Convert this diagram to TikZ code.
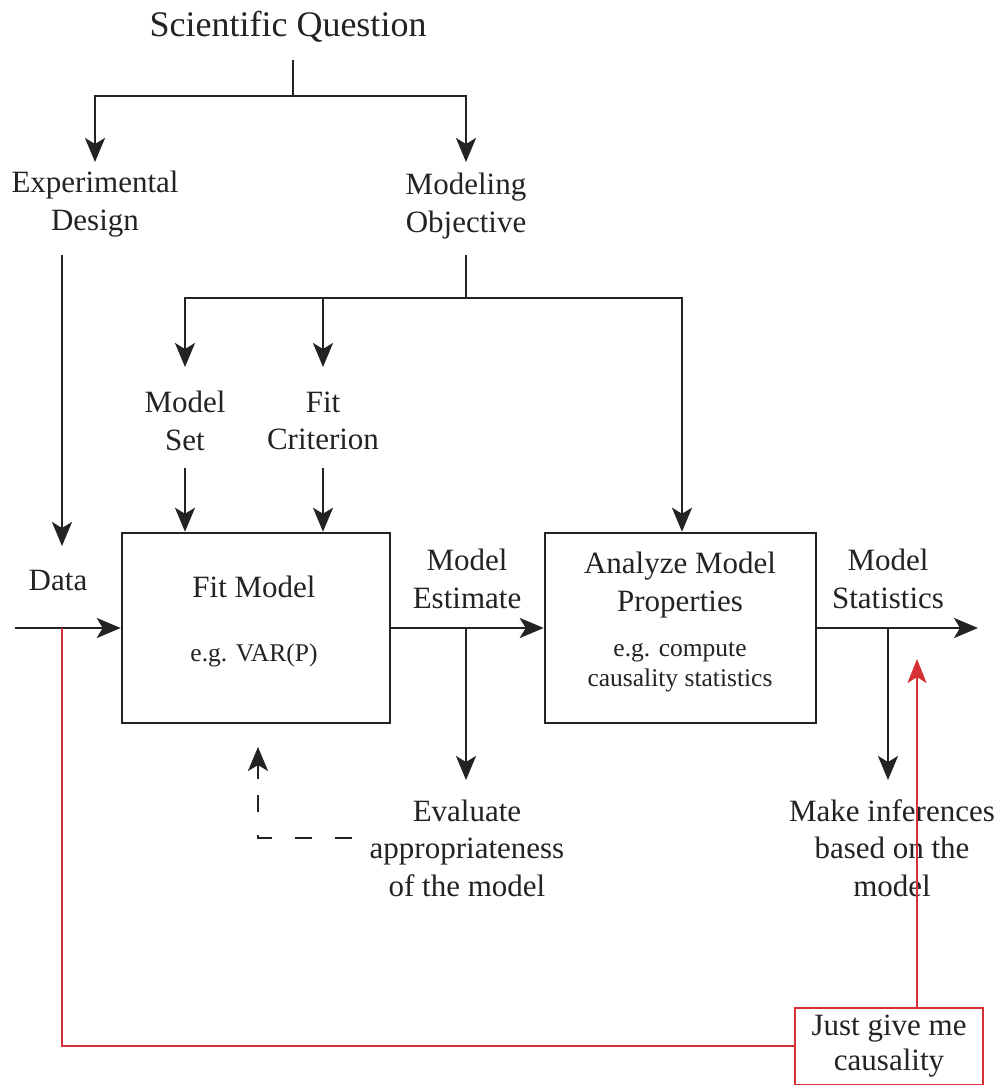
\documentclass[tikz,border=0pt]{standalone}
\usepackage{fontspec}
\setmainfont{Liberation Serif}
\usetikzlibrary{arrows.meta}
\definecolor{ink}{RGB}{35,35,38}
\definecolor{redline}{RGB}{214,48,52}
\begin{document}
\begin{tikzpicture}[x=1pt,y=-1pt,
  lbl/.style={align=center,text=ink,font=\fontsize{31}{37.5}\selectfont,inner sep=0pt},
  sub/.style={align=center,text=ink,font=\fontsize{25.5}{30}\selectfont,inner sep=0pt},
  boxnode/.style={draw=ink,line width=2.5pt,minimum height=190pt,inner sep=0pt},
  wire/.style={draw=ink,line width=2.5pt},
  arr/.style={wire,-{Stealth[length=24pt,width=20pt,inset=6pt]}},
  redwire/.style={draw=redline,line width=2pt},
  redarr/.style={redwire,-{Stealth[length=24pt,width=19pt,inset=6pt]}},
  fbdash/.style={wire,dash pattern=on 17pt off 23pt}]
  \fill[white] (0,0) rectangle (999,1085);
  \useasboundingbox (0,0) rectangle (999,1085);
  \clip (0,0) rectangle (999,1085);

  % text labels
  \node[lbl,font=\fontsize{36}{42}\selectfont] (sq) at (288,27) {Scientific Question};
  \node[lbl] (exp) at (95,204) {Experimental\\Design};
  \node[lbl] (mo) at (466,206) {Modeling\\Objective};
  \node[lbl] (ms) at (185,421) {Model\\Set};
  \node[lbl] (fc) at (323,421) {Fit\\Criterion};
  \node[lbl] (data) at (58,580) {Data};
  \node[lbl] (me) at (467,579) {Model\\Estimate};
  \node[lbl] (mstat) at (888,579) {Model\\Statistics};
  \node[lbl] (ev) at (467,848) {Evaluate\\appropriateness\\of the model};
  \node[lbl] (mi) at (892,848) {Make inferences\\based on the\\model};

  % process boxes
  \node[boxnode,minimum width=268pt] (fit) at (256,628) {};
  \node[lbl] (fittitle) at (254,587) {Fit Model};
  \node[sub] (fitsub) at (254,655) {e.g. VAR(P)};
  \node[boxnode,minimum width=271pt] (an) at (680.5,628) {};
  \node[lbl] (antitle) at (680,585) {Analyze Model\\Properties};
  \node[sub] (ansub) at (680,667) {e.g. compute\\causality statistics};

  % shortcut box
  \node[draw=redline,line width=2pt,minimum width=188pt,minimum height=77pt,
        inner sep=0pt,align=center,text=ink,font=\fontsize{31}{35}\selectfont]
        (jg) at (889,1046) {Just give me\\causality};

  % junctions and free ends
  \coordinate (qtop) at (293,60);
  \coordinate (qj) at (293,96);
  \coordinate (expin) at (95,162);
  \coordinate (moin) at (466,162);
  \coordinate (expout) at (62,255);
  \coordinate (datain) at (62,546);
  \coordinate (moout) at (466,255);
  \coordinate (moj) at (466,298);
  \coordinate (msin) at (185,367);
  \coordinate (fcin) at (323,367);
  \coordinate (msout) at (185,468);
  \coordinate (fcout) at (323,468);
  \coordinate (src) at (15,628);
  \coordinate (tap) at (62,628);
  \coordinate (estj) at (466,628);
  \coordinate (evin) at (466,780);
  \coordinate (statj) at (888,628);
  \coordinate (miin) at (888,780);
  \coordinate (sink) at (978,628);
  \coordinate (fbstart) at (352,838);
  \coordinate (fbcorner) at (258,838);
  \coordinate (fbmid) at (258,779);
  \coordinate (fbtip) at (258,747);
  \coordinate (redtip) at (917,659);
  \coordinate (redcorner) at (62,1046);

  % question tree
  \draw[wire] (qtop) -- (qj);
  \draw[arr] (qj) -| (expin);
  \draw[arr] (qj) -| (moin);
  \draw[arr] (expout) -- (datain);
  \draw[wire] (moout) -- (moj);
  \draw[arr] (moj) -| (msin);
  \draw[arr] (moj) -| (fcin);
  \draw[arr] (moj) -| ([xshift=1.5pt]an.north);
  \draw[arr] (msout) -- (msout |- fit.north);
  \draw[arr] (fcout) -- (fcout |- fit.north);

  % main flow
  \draw[arr] (src) -- (fit.west);
  \draw[arr] (fit.east) -- (an.west);
  \draw[arr] (an.east) -- (sink);
  \draw[arr] (estj) -- (evin);
  \draw[arr] (statj) -- (miin);

  % feedback from the evaluation
  \draw[fbdash] (fbstart) -- (fbcorner) -- (fbmid);
  \draw[arr] (fbmid) -- (fbtip);

  % shortcut
  \draw[redwire] (tap) -- (redcorner) -- (jg.west);
  \draw[redarr] (jg.north -| redtip) -- (redtip);
\end{tikzpicture}
\end{document}
